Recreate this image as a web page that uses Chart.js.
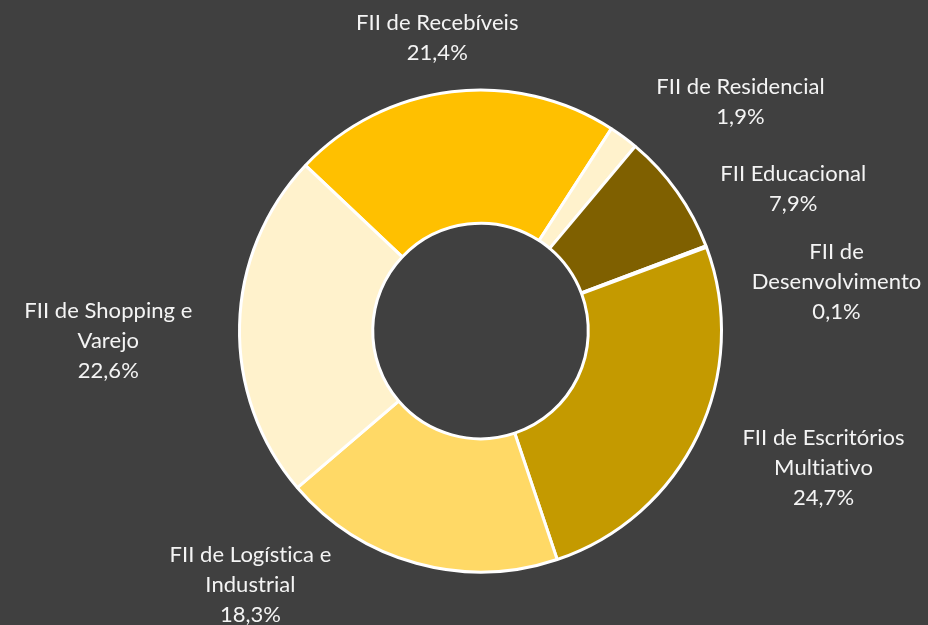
<!DOCTYPE html>
<html>
<head>
<meta charset="utf-8">
<script src="https://cdn.jsdelivr.net/npm/chart.js@4/dist/chart.umd.min.js"></script>
<style>
  html, body { margin: 0; padding: 0; background: #404040; }
  #wrap { width: 928px; height: 625px; position: relative; }
</style>
</head>
<body>
<div id="wrap"><canvas id="c" width="928" height="625"></canvas></div>
<script>
// ---- data ----
const categories = [
  ["FII de Recebíveis"],
  ["FII de Residencial"],
  ["FII Educacional"],
  ["FII de", "Desenvolvimento"],
  ["FII de Escritórios", "Multiativo"],
  ["FII de Logística e", "Industrial"],
  ["FII de Shopping e", "Varejo"]
];
const values = [21.4, 1.9, 7.9, 0.1, 24.7, 18.3, 22.6];

// ---- styling / layout (kept separate from data) ----
const sliceColors = ["#FFC000", "#FFF2CC", "#7F6000", "#BF9000", "#C49A00", "#FFD966", "#FFF2CC"];
// label placement: [angle from top clockwise (deg), distance as factor of outer radius]
const labelPlacement = [
  [351.6, 1.228],
  [48.6, 1.438],
  [65.5, 1.426],
  [82.2, 1.491],
  [111.8, 1.533],
  [222.2, 1.421],
  [268.5, 1.545]
];
const labelFont = "22px Lato";
const labelLineHeight = 30;

const fmtPct = v => v.toFixed(1).replace('.', ',') + '%';

const labelPlugin = {
  id: 'outerLabels',
  afterDatasetsDraw(chart) {
    const ctx = chart.ctx;
    const meta = chart.getDatasetMeta(0);
    ctx.save();
    ctx.font = labelFont;
    if ('letterSpacing' in ctx) ctx.letterSpacing = '0.05px'; // avoids ligatures
    ctx.fillStyle = "#F4F4F4";
    ctx.textAlign = "center";
    ctx.textBaseline = "middle";
    meta.data.forEach((arc, i) => {
      const cx = arc.x, cy = arc.y, r = arc.outerRadius;
      const [deg, f] = labelPlacement[i];
      const a = deg * Math.PI / 180;
      const x = cx + Math.sin(a) * r * f;
      const y = cy - Math.cos(a) * r * f;
      const lines = categories[i].concat([fmtPct(values[i])]);
      const y0 = y - (lines.length - 1) * labelLineHeight / 2;
      lines.forEach((t, k) => ctx.fillText(t, x, y0 + k * labelLineHeight));
    });
    ctx.restore();
  }
};

new Chart(document.getElementById('c'), {
  type: 'doughnut',
  data: {
    labels: categories,
    datasets: [{
      data: values,
      backgroundColor: sliceColors,
      borderColor: "#FFFFFF",
      borderWidth: 3
    }]
  },
  options: {
    responsive: false,
    animation: false,
    rotation: -46.6,
    radius: 241,
    cutout: 108,
    layout: { padding: { top: 88, bottom: 51, left: 40, right: 7 } },
    plugins: { legend: { display: false }, tooltip: { enabled: false } }
  },
  plugins: [labelPlugin]
});
</script>
</body>
</html>
